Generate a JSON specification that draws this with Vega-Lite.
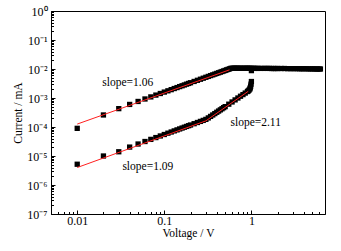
{
  "$schema": "https://vega.github.io/schema/vega-lite/v6.json",
  "width": 274,
  "height": 203,
  "autosize": "none",
  "padding": {"left": 51, "top": 11, "right": 16, "bottom": 37},
  "background": "white",
  "config": {
    "font": "Liberation Serif",
    "view": {"stroke": "black", "strokeWidth": 1},
    "axis": {"grid": false, "domainColor": "black", "tickColor": "black", "labelColor": "black", "titleColor": "black", "labelFont": "Liberation Serif", "titleFont": "Liberation Serif", "labelFontSize": 12, "titleFontSize": 11.5, "titleFontWeight": "normal", "domainWidth": 1, "tickWidth": 1}
  },
  "datasets": {
    "pts": [
      {"s": "A", "V": 0.01, "I": 9.0e-5},
      {"s": "A", "V": 0.02, "I": 2.6e-4},
      {"s": "A", "V": 0.03, "I": 4.3e-4},
      {"s": "A", "V": 0.04, "I": 6.0e-4},
      {"s": "A", "V": 0.05, "I": 7.6e-4},
      {"s": "A", "V": 0.06, "I": 9.25e-4},
      {"s": "A", "V": 0.07, "I": 1.09e-3},
      {"s": "A", "V": 0.08, "I": 1.26e-3},
      {"s": "A", "V": 0.09, "I": 1.43e-3},
      {"s": "A", "V": 0.10, "I": 1.60e-3},
      {"s": "A", "V": 0.11, "I": 1.77e-3},
      {"s": "A", "V": 0.12, "I": 1.94e-3},
      {"s": "A", "V": 0.13, "I": 2.12e-3},
      {"s": "A", "V": 0.14, "I": 2.29e-3},
      {"s": "A", "V": 0.15, "I": 2.47e-3},
      {"s": "A", "V": 0.16, "I": 2.64e-3},
      {"s": "A", "V": 0.17, "I": 2.82e-3},
      {"s": "A", "V": 0.18, "I": 3.00e-3},
      {"s": "A", "V": 0.19, "I": 3.18e-3},
      {"s": "A", "V": 0.20, "I": 3.36e-3},
      {"s": "A", "V": 0.22, "I": 3.72e-3},
      {"s": "A", "V": 0.24, "I": 4.08e-3},
      {"s": "A", "V": 0.26, "I": 4.44e-3},
      {"s": "A", "V": 0.28, "I": 4.81e-3},
      {"s": "A", "V": 0.30, "I": 5.18e-3},
      {"s": "A", "V": 0.32, "I": 5.55e-3},
      {"s": "A", "V": 0.34, "I": 5.92e-3},
      {"s": "A", "V": 0.36, "I": 6.29e-3},
      {"s": "A", "V": 0.38, "I": 6.67e-3},
      {"s": "A", "V": 0.40, "I": 7.04e-3},
      {"s": "A", "V": 0.42, "I": 7.42e-3},
      {"s": "A", "V": 0.44, "I": 7.80e-3},
      {"s": "A", "V": 0.46, "I": 8.18e-3},
      {"s": "A", "V": 0.48, "I": 8.56e-3},
      {"s": "A", "V": 0.50, "I": 8.94e-3},
      {"s": "A", "V": 0.52, "I": 9.33e-3},
      {"s": "A", "V": 0.54, "I": 9.71e-3},
      {"s": "A", "V": 0.56, "I": 1.01e-2},
      {"s": "A", "V": 0.58, "I": 1.05e-2},
      {"s": "A", "V": 0.60, "I": 1.06e-2},
      {"s": "A", "V": 0.62, "I": 1.06e-2},
      {"s": "A", "V": 0.64, "I": 1.06e-2},
      {"s": "A", "V": 0.66, "I": 1.06e-2},
      {"s": "A", "V": 0.68, "I": 1.06e-2},
      {"s": "A", "V": 0.70, "I": 1.06e-2},
      {"s": "A", "V": 0.72, "I": 1.06e-2},
      {"s": "A", "V": 0.75, "I": 1.06e-2},
      {"s": "A", "V": 0.78, "I": 1.06e-2},
      {"s": "A", "V": 0.81, "I": 1.06e-2},
      {"s": "A", "V": 0.84, "I": 1.06e-2},
      {"s": "A", "V": 0.87, "I": 1.06e-2},
      {"s": "A", "V": 0.90, "I": 1.06e-2},
      {"s": "A", "V": 0.93, "I": 1.06e-2},
      {"s": "A", "V": 0.96, "I": 1.06e-2},
      {"s": "A", "V": 1.00, "I": 1.06e-2},
      {"s": "A", "V": 1.05, "I": 1.06e-2},
      {"s": "A", "V": 1.10, "I": 1.05e-2},
      {"s": "A", "V": 1.15, "I": 1.05e-2},
      {"s": "A", "V": 1.20, "I": 1.05e-2},
      {"s": "A", "V": 1.30, "I": 1.05e-2},
      {"s": "A", "V": 1.40, "I": 1.05e-2},
      {"s": "A", "V": 1.50, "I": 1.05e-2},
      {"s": "A", "V": 1.60, "I": 1.05e-2},
      {"s": "A", "V": 1.70, "I": 1.04e-2},
      {"s": "A", "V": 1.80, "I": 1.04e-2},
      {"s": "A", "V": 1.90, "I": 1.04e-2},
      {"s": "A", "V": 2.00, "I": 1.04e-2},
      {"s": "A", "V": 2.20, "I": 1.04e-2},
      {"s": "A", "V": 2.40, "I": 1.04e-2},
      {"s": "A", "V": 2.60, "I": 1.03e-2},
      {"s": "A", "V": 2.80, "I": 1.03e-2},
      {"s": "A", "V": 3.00, "I": 1.03e-2},
      {"s": "A", "V": 3.20, "I": 1.03e-2},
      {"s": "A", "V": 3.40, "I": 1.03e-2},
      {"s": "A", "V": 3.60, "I": 1.02e-2},
      {"s": "A", "V": 3.80, "I": 1.02e-2},
      {"s": "A", "V": 4.00, "I": 1.02e-2},
      {"s": "A", "V": 4.25, "I": 1.02e-2},
      {"s": "A", "V": 4.50, "I": 1.01e-2},
      {"s": "A", "V": 4.75, "I": 1.01e-2},
      {"s": "A", "V": 5.00, "I": 1.01e-2},
      {"s": "A", "V": 5.25, "I": 1.01e-2},
      {"s": "A", "V": 5.50, "I": 1.00e-2},
      {"s": "A", "V": 5.75, "I": 1.00e-2},
      {"s": "A", "V": 6.00, "I": 1.00e-2},
      {"s": "A", "V": 6.20, "I": 1.00e-2},
      {"s": "B", "V": 0.01, "I": 5.2e-6},
      {"s": "B", "V": 0.02, "I": 1.0e-5},
      {"s": "B", "V": 0.03, "I": 1.4e-5},
      {"s": "B", "V": 0.04, "I": 2.03e-5},
      {"s": "B", "V": 0.05, "I": 2.59e-5},
      {"s": "B", "V": 0.06, "I": 3.16e-5},
      {"s": "B", "V": 0.07, "I": 3.74e-5},
      {"s": "B", "V": 0.08, "I": 4.32e-5},
      {"s": "B", "V": 0.09, "I": 4.91e-5},
      {"s": "B", "V": 0.10, "I": 5.51e-5},
      {"s": "B", "V": 0.11, "I": 6.12e-5},
      {"s": "B", "V": 0.12, "I": 6.72e-5},
      {"s": "B", "V": 0.13, "I": 7.34e-5},
      {"s": "B", "V": 0.14, "I": 7.96e-5},
      {"s": "B", "V": 0.15, "I": 8.57e-5},
      {"s": "B", "V": 0.16, "I": 9.20e-5},
      {"s": "B", "V": 0.17, "I": 9.83e-5},
      {"s": "B", "V": 0.18, "I": 1.046e-4},
      {"s": "B", "V": 0.19, "I": 1.11e-4},
      {"s": "B", "V": 0.20, "I": 1.173e-4},
      {"s": "B", "V": 0.22, "I": 1.30e-4},
      {"s": "B", "V": 0.24, "I": 1.43e-4},
      {"s": "B", "V": 0.26, "I": 1.56e-4},
      {"s": "B", "V": 0.28, "I": 1.69e-4},
      {"s": "B", "V": 0.30, "I": 1.83e-4},
      {"s": "B", "V": 0.32, "I": 2.06e-4},
      {"s": "B", "V": 0.34, "I": 2.32e-4},
      {"s": "B", "V": 0.36, "I": 2.60e-4},
      {"s": "B", "V": 0.38, "I": 2.90e-4},
      {"s": "B", "V": 0.40, "I": 3.22e-4},
      {"s": "B", "V": 0.42, "I": 3.55e-4},
      {"s": "B", "V": 0.44, "I": 3.90e-4},
      {"s": "B", "V": 0.46, "I": 4.26e-4},
      {"s": "B", "V": 0.48, "I": 4.64e-4},
      {"s": "B", "V": 0.50, "I": 5.04e-4},
      {"s": "B", "V": 0.55, "I": 6.12e-4},
      {"s": "B", "V": 0.60, "I": 7.30e-4},
      {"s": "B", "V": 0.65, "I": 8.60e-4},
      {"s": "B", "V": 0.70, "I": 1.00e-3},
      {"s": "B", "V": 0.75, "I": 1.15e-3},
      {"s": "B", "V": 0.80, "I": 1.31e-3},
      {"s": "B", "V": 0.85, "I": 1.48e-3},
      {"s": "B", "V": 0.90, "I": 1.67e-3},
      {"s": "B", "V": 0.92, "I": 1.76e-3},
      {"s": "B", "V": 0.94, "I": 1.88e-3},
      {"s": "B", "V": 0.96, "I": 2.05e-3},
      {"s": "B", "V": 0.97, "I": 2.25e-3},
      {"s": "B", "V": 0.98, "I": 2.55e-3},
      {"s": "B", "V": 0.99, "I": 3.0e-3},
      {"s": "B", "V": 1.00, "I": 3.7e-3},
      {"s": "B", "V": 1.00, "I": 8.8e-3}
    ],
    "fits": [
      {"f": "a", "V": 0.01, "I": 1.26e-4},
      {"f": "a", "V": 0.56, "I": 9.35e-3},
      {"f": "b", "V": 0.01, "I": 4.0e-6},
      {"f": "b", "V": 0.30, "I": 1.63e-4},
      {"f": "b", "V": 0.92, "I": 1.70e-3}
    ],
    "labels": [
      {"t": "slope=1.06", "V": 0.0194, "I": 3.4e-3},
      {"t": "slope=2.11", "V": 0.575, "I": 1.41e-4},
      {"t": "slope=1.09", "V": 0.033, "I": 4.3e-6}
    ]
  },
  "layer": [
    {
      "data": {"name": "pts"},
      "mark": {"type": "point", "shape": "square", "filled": true, "color": "black", "size": 28, "opacity": 1},
      "encoding": {
        "x": {"field": "V", "type": "quantitative", "scale": {"type": "log", "domain": [0.005, 7], "nice": false},
          "axis": {"values": [0.01, 0.1, 1], "labelExpr": "datum.value < 0.05 ? '0.01' : datum.value < 0.5 ? '0.1' : '1'", "tickSize": -4, "labelPadding": 5, "title": "Voltage / V", "titlePadding": 1.5, "orient": "bottom"}},
        "y": {"field": "I", "type": "quantitative", "scale": {"type": "log", "domain": [1e-7, 1], "nice": false},
          "axis": {"values": [1e-7, 1e-6, 1e-5, 1e-4, 1e-3, 1e-2, 1e-1, 1], "labelExpr": "'10' + ['⁰','⁻¹','⁻²','⁻³','⁻⁴','⁻⁵','⁻⁶','⁻⁷'][round(-log(datum.value)/LN10)]", "tickSize": -4, "labelPadding": 8, "title": "Current / mA", "titlePadding": 3, "orient": "left"}}
      }
    },
    {
      "data": {"name": "fits"},
      "mark": {"type": "line", "color": "#ff2020", "strokeWidth": 1},
      "encoding": {
        "x": {"field": "V", "type": "quantitative", "scale": {"type": "log", "domain": [0.005, 7], "nice": false},
          "axis": {"values": [0.006, 0.007, 0.008, 0.009, 0.02, 0.03, 0.04, 0.05, 0.06, 0.07, 0.08, 0.09, 0.2, 0.3, 0.4, 0.5, 0.6, 0.7, 0.8, 0.9, 2, 3, 4, 5, 6], "labels": false, "domain": false, "tickSize": -2.5, "title": null, "orient": "bottom"}},
        "y": {"field": "I", "type": "quantitative", "scale": {"type": "log", "domain": [1e-7, 1], "nice": false},
          "axis": {"values": [2e-7,3e-7,4e-7,5e-7,6e-7,7e-7,8e-7,9e-7,2e-6,3e-6,4e-6,5e-6,6e-6,7e-6,8e-6,9e-6,2e-5,3e-5,4e-5,5e-5,6e-5,7e-5,8e-5,9e-5,2e-4,3e-4,4e-4,5e-4,6e-4,7e-4,8e-4,9e-4,2e-3,3e-3,4e-3,5e-3,6e-3,7e-3,8e-3,9e-3,2e-2,3e-2,4e-2,5e-2,6e-2,7e-2,8e-2,9e-2,2e-1,3e-1,4e-1,5e-1,6e-1,7e-1,8e-1,9e-1], "labels": false, "domain": false, "tickSize": -2.5, "title": null, "orient": "left"}},
        "detail": {"field": "f"}
      }
    },
    {
      "data": {"name": "labels"},
      "mark": {"type": "text", "align": "left", "baseline": "middle", "fontSize": 11.5, "color": "black", "font": "Liberation Serif"},
      "encoding": {
        "x": {"field": "V", "type": "quantitative", "scale": {"type": "log", "domain": [0.005, 7], "nice": false}, "axis": null},
        "y": {"field": "I", "type": "quantitative", "scale": {"type": "log", "domain": [1e-7, 1], "nice": false}, "axis": null},
        "text": {"field": "t"}
      }
    }
  ],
  "resolve": {"axis": {"x": "independent", "y": "independent"}}
}
